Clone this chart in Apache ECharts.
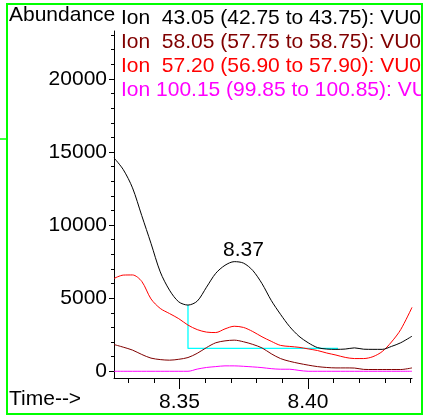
<!DOCTYPE html>
<html>
<head>
<meta charset="utf-8">
<script src="https://cdn.jsdelivr.net/npm/echarts@6/dist/echarts.min.js"></script>
<style>
  html, body { margin: 0; padding: 0; background: #fff; }
  #chart { width: 425px; height: 417px; }
</style>
</head>
<body>
<div id="chart"></div>
<script>
// Retention times (min) of the scans
var times = [8.3245, 8.3281, 8.3317, 8.3353, 8.3389, 8.3425, 8.3461, 8.3497, 8.3533, 8.3569,
             8.3605, 8.3641, 8.3677, 8.3713, 8.3749, 8.3785, 8.3821, 8.3857, 8.3893, 8.3929,
             8.3965, 8.4001, 8.4037, 8.4073, 8.4109, 8.4145, 8.4181, 8.4217, 8.4253, 8.4289,
             8.4325, 8.4361, 8.4405];

// Extracted ion abundances
var ion4305 = [14600, 13800, 12550, 10650, 8750, 6800, 5550, 4750, 4530, 4800,
               5750, 6700, 7250, 7500, 7400, 6900, 6000, 4850, 3900, 3050,
               2400, 1950, 1620, 1520, 1500, 1520, 1600, 1510, 1500, 1500,
               1700, 1950, 2400];
var ion5805 = [1830, 1650, 1450, 1150, 900, 800, 760, 820, 940, 1230,
               1620, 1950, 2080, 2130, 2020, 1840, 1600, 1200, 870, 680,
               540, 420, 320, 260, 230, 230, 220, 130, 120, 120,
               120, 120, 230];
var ion5720 = [6350, 6580, 6590, 6150, 4950, 4300, 3950, 3600, 3160, 2850,
               2680, 2650, 2900, 3080, 3000, 2720, 2360, 2050, 1770, 1700,
               1640, 1530, 1420, 1250, 1110, 950, 870, 870, 1000, 1350,
               2000, 2850, 4370];
var ion10015 = [0, 0, 0, 0, 0, 0, 0, 0, 0, 150,
                260, 320, 370, 370, 340, 300, 250, 180, 140, 140,
                60, 0, 0, 0, 0, 0, 0, 0, 0, 0,
                0, 0, 0];

var ionNames = [
  'Ion  43.05 (42.75 to 43.75): VU0',
  'Ion  58.05 (57.75 to 58.75): VU0',
  'Ion  57.20 (56.90 to 57.90): VU0',
  'Ion 100.15 (99.85 to 100.85): VU0'
];
var ionColors = ['#000000', '#800000', '#ff0000', '#ff00ff'];

// Integration baseline under the 8.37 peak
var baseTimes = [8.3533, 8.3533, 8.4117];
var baseValues = [4530, 1560, 1560];

// Peak apex
var peakTime = 8.3722;
var peakValue = 7510;

// Axis ticks
var yMajorTicks = [0, 5000, 10000, 15000, 20000];
var yMinorTicks = [0, 1000, 2000, 3000, 4000, 5000, 6000, 7000, 8000, 9000, 10000, 11000,
                   12000, 13000, 14000, 15000, 16000, 17000, 18000, 19000, 20000, 21000, 22000, 23000];
var xMinorTicks = [8.33, 8.34, 8.35, 8.36, 8.37, 8.38, 8.39, 8.40, 8.41, 8.42, 8.43, 8.44];
var xMajorTicks = [8.35, 8.40];

var FONT = '"Liberation Sans", Arial, sans-serif';
var FS = 21;

function pairs(xs, ys) {
  return xs.map(function (x, i) { return [x, ys[i]]; });
}

var xRange = { min: 8.3245, max: 8.4405 };
var yRange = { min: -460, max: 23280 };

var series = [{
  type: 'line', name: 'baseline', data: pairs(baseTimes, baseValues),
  symbol: 'none', lineStyle: { color: '#00ffff', width: 1.3 }, z: 1, silent: true
}];
var seriesData = [ion4305, ion5805, ion5720, ion10015];
[3, 2, 1, 0].forEach(function (i) {
  series.push({
    type: 'line', name: ionNames[i], data: pairs(times, seriesData[i]),
    symbol: 'none', smooth: 0.3,
    lineStyle: { color: ionColors[i], width: 1 }, z: 2 + (3 - i), silent: true
  });
});
series.push({
  type: 'scatter', name: 'apex', data: [[peakTime, peakValue]],
  symbolSize: 0, silent: true, itemStyle: { opacity: 1 },
  label: {
    show: true, position: 'top', distance: 3, offset: [7, 2], opacity: 1,
    color: '#000000', textBorderWidth: 0, fontFamily: FONT, fontSize: FS,
    formatter: function (p) { return p.value[0].toFixed(2); }
  }
});

var graphics = [];
ionNames.forEach(function (name, i) {
  graphics.push({
    type: 'text', left: 121, top: 8 + i * 23.8, z: 10,
    style: { text: name, fill: ionColors[i], font: FS + 'px ' + FONT }
  });
});
graphics.push(
  { type: 'text', left: 9, top: 5, z: 10, style: { text: 'Abundance', fill: '#000', font: FS + 'px ' + FONT } },
  { type: 'text', left: 9, top: 389, z: 10, style: { text: 'Time-->', fill: '#000', font: FS + 'px ' + FONT } },
  { type: 'rect', shape: { x: 422, y: 0, width: 10, height: 417 }, style: { fill: '#fff' }, z: 20 },
  { type: 'rect', shape: { x: 7, y: 4, width: 415, height: 410 }, style: { fill: null, stroke: '#00ff00', lineWidth: 2 }, z: 21 },
  { type: 'line', shape: { x1: 0, y1: 139, x2: 7, y2: 139 }, style: { stroke: '#00ff00', lineWidth: 1.5 }, z: 21 }
);

var chart = echarts.init(document.getElementById('chart'), null, { renderer: 'canvas' });
chart.setOption({
  animation: false,
  backgroundColor: '#fff',
  grid: { left: 114, top: 31, width: 298, height: 347, containLabel: false },
  xAxis: [{
    type: 'value', min: xRange.min, max: xRange.max, position: 'bottom',
    axisLine: { show: true, onZero: false, lineStyle: { color: '#000', width: 1 } },
    axisTick: { show: true, customValues: xMinorTicks, length: 5, lineStyle: { color: '#000' } },
    axisLabel: { show: false }, splitLine: { show: false }
  }, {
    type: 'value', min: xRange.min, max: xRange.max, position: 'bottom',
    axisLine: { show: false, onZero: false },
    axisTick: { show: true, customValues: xMajorTicks, length: 11, lineStyle: { color: '#000' } },
    axisLabel: {
      show: true, customValues: xMajorTicks, margin: 14, color: '#000',
      fontFamily: FONT, fontSize: FS,
      formatter: function (v) { return v.toFixed(2); }
    },
    splitLine: { show: false }
  }],
  yAxis: [{
    type: 'value', min: yRange.min, max: yRange.max, position: 'left',
    axisLine: { show: true, onZero: false, lineStyle: { color: '#000', width: 1 } },
    axisTick: { show: true, customValues: yMajorTicks, length: 5, lineStyle: { color: '#000' } },
    axisLabel: {
      show: true, customValues: yMajorTicks, margin: 7, color: '#000',
      fontFamily: FONT, fontSize: FS,
      formatter: function (v) { return String(v); }
    },
    splitLine: { show: false }
  }, {
    type: 'value', min: yRange.min, max: yRange.max, position: 'left', offset: 0,
    axisLine: { show: false, onZero: false },
    axisTick: { show: true, customValues: yMinorTicks, length: 3, lineStyle: { color: '#000' } },
    axisLabel: { show: false }, splitLine: { show: false }
  }],
  series: series,
  graphic: graphics
});
</script>
</body>
</html>
